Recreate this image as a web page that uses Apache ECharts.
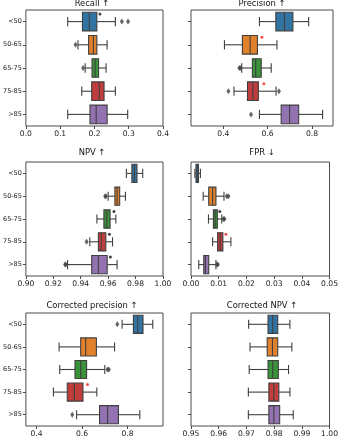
<!DOCTYPE html>
<html>
<head>
<meta charset="utf-8">
<script src="https://cdn.jsdelivr.net/npm/echarts@6/dist/echarts.min.js"></script>
<style>
  html, body { margin: 0; padding: 0; background: #fff; }
  #chart { width: 341px; height: 440px; }
</style>
</head>
<body>
<div id="chart"></div>
<script>
var categories = ['<50', '50-65', '65-75', '75-85', '>85'];
var colors = ['#3274a1', '#e1812c', '#3a923a', '#c03d3e', '#9372b2'];

// each box: [whisker low, q1, median, q3, whisker high]
var recallBoxes = [
    [0.122, 0.165, 0.185, 0.207, 0.261],
    [0.152, 0.183, 0.197, 0.207, 0.237],
    [0.173, 0.193, 0.202, 0.212, 0.234],
    [0.163, 0.192, 0.214, 0.228, 0.261],
    [0.122, 0.187, 0.205, 0.237, 0.297]
];
var recallOutliers = [[0.280, 0], [0.298, 0], [0.145, 1], [0.167, 2]];
var recallBlackMarks = [[0.216, 0]];
var recallRedMarks = [];
var recallTicks = [0.0, 0.1, 0.2, 0.3, 0.4];

var precisionBoxes = [
    [0.563, 0.637, 0.676, 0.714, 0.785],
    [0.405, 0.486, 0.521, 0.554, 0.642],
    [0.483, 0.531, 0.546, 0.571, 0.616],
    [0.448, 0.509, 0.533, 0.558, 0.638],
    [0.563, 0.661, 0.699, 0.740, 0.848]
];
var precisionOutliers = [[0.472, 2], [0.477, 2], [0.423, 3], [0.651, 3], [0.525, 4]];
var precisionBlackMarks = [];
var precisionRedMarks = [[0.574, 1], [0.583, 3]];
var precisionTicks = [0.4, 0.6, 0.8];

var npvBoxes = [
    [0.9733, 0.9773, 0.9792, 0.9810, 0.9852],
    [0.9600, 0.9649, 0.9665, 0.9684, 0.9726],
    [0.9518, 0.9569, 0.9590, 0.9614, 0.9656],
    [0.9466, 0.9529, 0.9550, 0.9583, 0.9632],
    [0.9304, 0.9480, 0.9529, 0.9593, 0.9665]
];
var npvOutliers = [[0.9578, 1], [0.9584, 1], [0.9443, 3], [0.9286, 4], [0.9291, 4]];
var npvBlackMarks = [[0.9642, 2], [0.9609, 3], [0.9616, 4]];
var npvRedMarks = [];
var npvTicks = [0.90, 0.92, 0.94, 0.96, 0.98, 1.00];

var fprBoxes = [
    [0.0014, 0.0018, 0.0022, 0.0027, 0.0034],
    [0.0044, 0.0064, 0.0078, 0.0090, 0.0119],
    [0.0063, 0.0081, 0.0087, 0.0095, 0.0111],
    [0.0078, 0.0096, 0.0105, 0.0115, 0.0144],
    [0.0028, 0.0046, 0.0052, 0.0064, 0.0090]
];
var fprOutliers = [[0.0129, 1], [0.0135, 1], [0.0117, 2], [0.0121, 2], [0.0094, 4], [0.0097, 4]];
var fprBlackMarks = [[0.0104, 2]];
var fprRedMarks = [[0.0126, 3]];
var fprTicks = [0.00, 0.01, 0.02, 0.03, 0.04, 0.05];

var corrPrecisionBoxes = [
    [0.776, 0.826, 0.845, 0.868, 0.911],
    [0.499, 0.594, 0.616, 0.663, 0.743],
    [0.502, 0.569, 0.594, 0.620, 0.700],
    [0.474, 0.535, 0.566, 0.604, 0.665],
    [0.576, 0.677, 0.712, 0.760, 0.854]
];
var corrPrecisionOutliers = [[0.755, 0], [0.712, 2], [0.718, 2], [0.557, 4]];
var corrPrecisionBlackMarks = [];
var corrPrecisionRedMarks = [[0.624, 3]];
var corrPrecisionTicks = [0.4, 0.6, 0.8];

var corrNpvBoxes = [
    [0.9708, 0.9778, 0.9795, 0.9813, 0.9857],
    [0.9713, 0.9775, 0.9794, 0.9813, 0.9864],
    [0.9710, 0.9778, 0.9795, 0.9815, 0.9852],
    [0.9707, 0.9781, 0.9799, 0.9817, 0.9857],
    [0.9707, 0.9781, 0.9799, 0.9820, 0.9869]
];
var corrNpvOutliers = [];
var corrNpvBlackMarks = [];
var corrNpvRedMarks = [];
var corrNpvTicks = [0.95, 0.96, 0.97, 0.98, 0.99, 1.00];

var panels = [
    { title: 'Recall ↑', boxes: recallBoxes, out: recallOutliers, black: recallBlackMarks, red: recallRedMarks, ticks: recallTicks, min: 0, max: 0.4, dec: 1, left: 21, top: 10, height: 116, titleY: 4 },
    { title: 'Precision ↑', boxes: precisionBoxes, out: precisionOutliers, black: precisionBlackMarks, red: precisionRedMarks, ticks: precisionTicks, min: 0.254, max: 0.895, dec: 1, left: 191, top: 10, height: 116, titleY: 4 },
    { title: 'NPV ↑', boxes: npvBoxes, out: npvOutliers, black: npvBlackMarks, red: npvRedMarks, ticks: npvTicks, min: 0.9, max: 1.0, dec: 2, left: 21, top: 162, height: 114, titleY: 153 },
    { title: 'FPR ↓', boxes: fprBoxes, out: fprOutliers, black: fprBlackMarks, red: fprRedMarks, ticks: fprTicks, min: 0, max: 0.05, dec: 2, left: 191, top: 162, height: 114, titleY: 153 },
    { title: 'Corrected precision ↑', boxes: corrPrecisionBoxes, out: corrPrecisionOutliers, black: corrPrecisionBlackMarks, red: corrPrecisionRedMarks, ticks: corrPrecisionTicks, min: 0.353, max: 0.956, dec: 1, left: 21, top: 313, height: 113, titleY: 306 },
    { title: 'Corrected NPV ↑', boxes: corrNpvBoxes, out: corrNpvOutliers, black: corrNpvBlackMarks, red: corrNpvRedMarks, ticks: corrNpvTicks, min: 0.95, max: 1.0, dec: 2, left: 191, top: 313, height: 113, titleY: 306 }
];

var edge = '#3f3f3f';
var frame = '#4a4a4a';

function renderBox(params, api) {
    var cat = api.value(0);
    var lo = api.coord([api.value(1), cat]);
    var q1 = api.coord([api.value(2), cat]);
    var md = api.coord([api.value(3), cat]);
    var q3 = api.coord([api.value(4), cat]);
    var hi = api.coord([api.value(5), cat]);
    var band = api.size([0, 1])[1];
    var h = band * 0.8;
    var cap = h / 2;
    var y = lo[1];
    var ls = { stroke: edge, lineWidth: 1.1 };
    return {
        type: 'group',
        children: [
            { type: 'line', shape: { x1: lo[0], y1: y, x2: q1[0], y2: y }, style: ls },
            { type: 'line', shape: { x1: q3[0], y1: y, x2: hi[0], y2: y }, style: ls },
            { type: 'line', shape: { x1: lo[0], y1: y - cap / 2, x2: lo[0], y2: y + cap / 2 }, style: ls },
            { type: 'line', shape: { x1: hi[0], y1: y - cap / 2, x2: hi[0], y2: y + cap / 2 }, style: ls },
            { type: 'rect', shape: { x: q1[0], y: y - h / 2, width: q3[0] - q1[0], height: h },
              style: { fill: colors[cat], stroke: edge, lineWidth: 1.1 } },
            { type: 'line', shape: { x1: md[0], y1: y - h / 2, x2: md[0], y2: y + h / 2 }, style: ls }
        ]
    };
}

var grids = [], xAxes = [], yAxes = [], series = [], graphics = [];
panels.forEach(function (p, i) {
    grids.push({ left: p.left, top: p.top, width: 142, height: p.height, show: true,
        borderColor: frame, borderWidth: 1, backgroundColor: 'transparent', containLabel: false });
    xAxes.push({
        gridIndex: i, type: 'value', min: p.min, max: p.max,
        axisLine: { show: false },
        splitLine: { show: false },
        axisTick: { show: true, length: 3, lineStyle: { color: frame }, customValues: p.ticks },
        axisLabel: { fontSize: 7.6, color: '#222', margin: 4, fontFamily: 'DejaVu Sans',
            customValues: p.ticks,
            formatter: (function (d) { return function (v) { return v.toFixed(d); }; })(p.dec) }
    });
    yAxes.push({
        gridIndex: i, type: 'category', data: categories, inverse: true,
        axisLine: { show: false },
        axisTick: { show: true, length: 3, alignWithLabel: true, lineStyle: { color: frame } },
        axisLabel: { show: p.left < 100, fontSize: 6.5, color: '#222', margin: 4, fontFamily: 'DejaVu Sans' }
    });
    series.push({
        type: 'custom', xAxisIndex: i, yAxisIndex: i, renderItem: renderBox,
        encode: { x: [1, 2, 3, 4, 5], y: 0 },
        data: p.boxes.map(function (b, k) { return [k].concat(b); }),
        silent: true, z: 2
    });
    series.push({
        type: 'scatter', xAxisIndex: i, yAxisIndex: i, symbol: 'diamond', symbolSize: [4, 6],
        itemStyle: { color: '#3f3f3f' }, data: p.out, silent: true, z: 3
    });
    series.push({
        type: 'scatter', xAxisIndex: i, yAxisIndex: i, symbol: 'circle', symbolSize: 3,
        symbolOffset: [0, -7.5], itemStyle: { color: '#111' }, data: p.black, silent: true, z: 4
    });
    series.push({
        type: 'scatter', xAxisIndex: i, yAxisIndex: i, symbol: 'circle', symbolSize: 3,
        symbolOffset: [0, -7.5], itemStyle: { color: '#ee2222' }, data: p.red, silent: true, z: 4
    });
    graphics.push({
        type: 'text', x: p.left + 71, y: p.titleY,
        style: { text: p.title, fontSize: 8.4, fill: '#111', fontFamily: 'DejaVu Sans',
            align: 'center', verticalAlign: 'middle' }
    });
});

var chart = echarts.init(document.getElementById('chart'), null, { renderer: 'canvas' });
chart.setOption({
    animation: false,
    grid: grids,
    xAxis: xAxes,
    yAxis: yAxes,
    series: series,
    graphic: graphics
});
</script>
</body>
</html>
